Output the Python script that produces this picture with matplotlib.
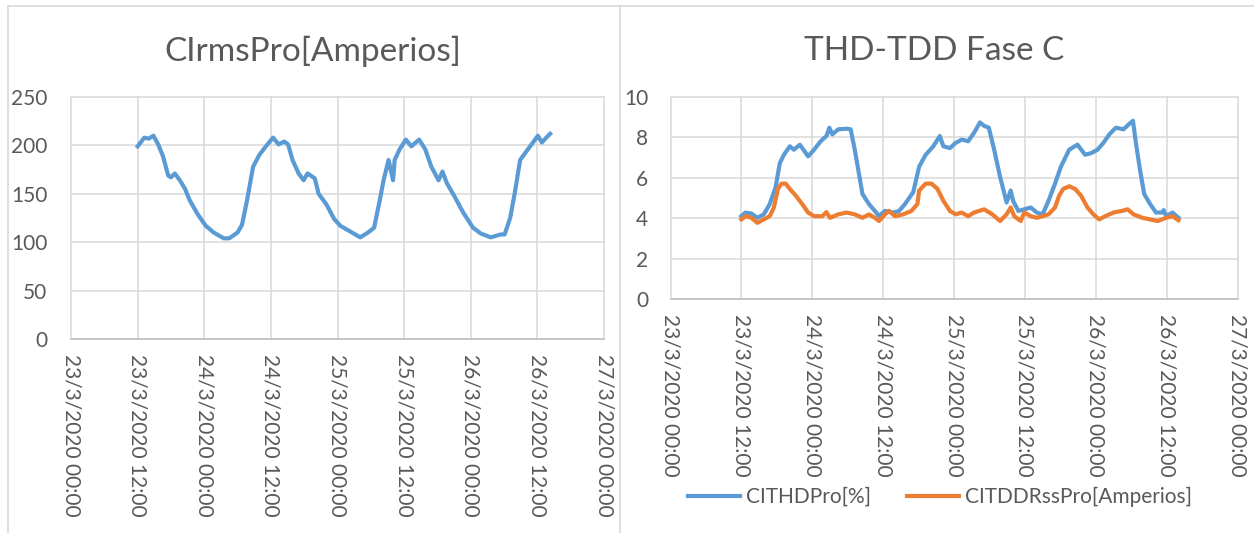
import numpy as np
import matplotlib
matplotlib.use("Agg")
import matplotlib.pyplot as plt

plt.rcParams['font.family'] = ['Lato', 'DejaVu Sans']

AZUL = '#5B9BD5'
NARANJA = '#ED7D31'
GRIS = '#D9D9D9'
TEXTO = '#595959'

# eje x en horas desde 23/3/2020 00:00
tick_horas = [0, 12, 24, 36, 48, 60, 72, 84, 96]
tick_labels = ["23/3/2020 00:00", "23/3/2020 12:00", "24/3/2020 00:00",
               "24/3/2020 12:00", "25/3/2020 00:00", "25/3/2020 12:00",
               "26/3/2020 00:00", "26/3/2020 12:00", "27/3/2020 00:00"]
INICIO = 12  # las medidas empiezan el 23/3 a las 12:00

# CIrmsPro[Amperios] (horas desde el inicio)
irms_t = [0, 1.2, 2.0, 2.85, 3.7, 4.56, 5.5, 6.0, 6.7, 7.6, 8.55, 9.4, 10.8,
          12.26, 13.7, 15.5, 16.5, 18.0, 18.8, 19.7, 20.8, 21.9, 23.1, 24.4,
          25.4, 26.4, 27.1, 27.9, 29.0, 29.9, 30.6, 31.9, 32.6, 34.0, 35.4,
          36.5, 38.3, 40.1, 41.5, 42.6, 43.6, 44.3, 45.2, 46.0, 46.3, 47.2,
          48.3, 49.3, 50.7, 51.8, 52.9, 54.2, 54.9, 55.7, 57.2, 58.6, 60.4,
          61.8, 63.6, 65.4, 66.1, 67.1, 67.9, 68.9, 70.3, 72.1, 72.8, 73.6, 74.3]
irms_val = [199, 208, 207, 210, 201, 189, 169, 167, 171, 164, 155, 143, 129,
            117, 110, 104, 104, 110, 118, 143, 178, 190, 199, 208,
            201, 204, 201, 185, 171, 164, 171, 166, 150, 139, 124,
            117, 111, 105, 110, 115, 143, 164, 185, 164, 185, 196,
            206, 199, 206, 196, 178, 164, 173, 161, 146, 131, 115,
            109, 105, 108, 108, 125, 150, 185, 196, 210, 203, 208, 212]

# CITHDPro[%]
thd_t = [0, 0.7, 1.7, 2.7, 3.8, 4.8, 5.8, 6.5, 7.2, 8.2, 8.9, 9.9, 11.3, 12.3,
         13.4, 14.4, 14.9, 15.4, 16.4, 17.8, 18.5, 19.2, 19.9, 20.5, 21.6,
         22.6, 23.3, 24.3, 25.7, 26.7, 27.7, 29.1, 30.1, 31.2, 32.5, 33.6,
         34.2, 35.3, 36.3, 37.3, 38.4, 39.4, 40.4, 41.1, 41.9, 42.8, 43.8,
         44.9, 45.6, 46.0, 46.9, 47.9, 49.0, 50.0, 51.0, 52.0, 53.1, 54.1,
         55.5, 56.9, 58.2, 59.2, 60.3, 61.3, 62.3, 63.4, 64.7, 65.6, 66.3,
         66.8, 67.5, 68.2, 69.2, 70.2, 71.2, 71.5, 71.9, 73.0, 74.0]
thd_val = [4.1, 4.28, 4.23, 4.02, 4.19, 4.7, 5.54, 6.72, 7.14, 7.56, 7.39, 7.64,
           7.06, 7.39, 7.8, 8.07, 8.48, 8.15, 8.4, 8.43, 8.4, 7.39, 6.21, 5.2,
           4.7, 4.36, 4.1, 4.36, 4.28, 4.36, 4.7, 5.29, 6.55, 7.14, 7.56, 8.07,
           7.56, 7.47, 7.73, 7.89, 7.81, 8.23, 8.74, 8.57, 8.48, 7.39, 6.05,
           4.78, 5.37, 4.86, 4.36, 4.44, 4.53, 4.28, 4.19, 4.86, 5.71, 6.55,
           7.39, 7.64, 7.14, 7.22, 7.39, 7.73, 8.15, 8.48, 8.4, 8.65, 8.82,
           7.73, 6.38, 5.2, 4.7, 4.28, 4.28, 4.4, 4.1, 4.28, 4.02]

# CITDDRssPro[Amperios]
tdd_t = [0, 0.7, 1.7, 2.7, 3.8, 4.8, 5.5, 6.2, 6.8, 7.5, 8.2, 9.2, 10.3, 11.3,
         12.3, 13.7, 14.4, 15.0, 16.4, 17.8, 19.2, 20.5, 21.6, 22.6, 23.3,
         24.3, 25.0, 26.0, 27.4, 28.8, 29.8, 30.1, 31.2, 32.2, 33.2, 34.2,
         35.3, 36.3, 37.3, 38.4, 39.4, 41.1, 42.5, 43.8, 44.9, 45.6, 46.2,
         47.3, 47.9, 49.0, 50.0, 51.0, 52.0, 53.1, 53.8, 54.5, 55.5, 56.5,
         57.5, 58.6, 59.6, 60.6, 61.6, 63.0, 64.4, 65.4, 66.4, 67.9, 69.2,
         70.5, 71.9, 73.0, 74.0]
tdd_val = [3.94, 4.1, 4.02, 3.77, 3.94, 4.1, 4.53, 5.45, 5.71, 5.71, 5.45, 5.12,
           4.7, 4.28, 4.1, 4.1, 4.3, 4.02, 4.19, 4.28, 4.19, 4.02, 4.19, 4.02,
           3.86, 4.19, 4.36, 4.1, 4.19, 4.36, 4.7, 5.37, 5.71, 5.71, 5.45, 4.86,
           4.36, 4.19, 4.28, 4.1, 4.28, 4.44, 4.19, 3.86, 4.19, 4.53, 4.1,
           3.86, 4.28, 4.1, 4.02, 4.1, 4.19, 4.53, 5.12, 5.45, 5.58, 5.45,
           5.12, 4.53, 4.19, 3.94, 4.1, 4.28, 4.36, 4.44, 4.19, 4.02, 3.94,
           3.86, 4.02, 4.1, 3.9]


def formato_eje(ax, ymax, ystep, ypad):
    ax.set_xlim(0, 96)
    ax.set_ylim(0, ymax)
    ax.set_xticks(tick_horas)
    ax.set_xticklabels(tick_labels, rotation=-90, ha='center', va='top')
    ax.set_yticks(np.arange(0, ymax + ystep / 2, ystep))
    ax.grid(True, color=GRIS, linewidth=1.1)
    ax.set_axisbelow(True)
    for linea in ax.get_xgridlines() + ax.get_ygridlines():
        linea.set_clip_on(False)
    for lado in ['top', 'right', 'left']:
        ax.spines[lado].set_visible(False)
    ax.spines['bottom'].set_color('#BFBFBF')
    ax.spines['bottom'].set_linewidth(1.1)
    ax.tick_params(axis='both', length=0, colors=TEXTO, labelsize=15)
    ax.tick_params(axis='x', pad=11)
    ax.tick_params(axis='y', pad=ypad)


fig = plt.figure(figsize=(12.54, 5.33), dpi=100)
W, H = 1254, 533

# marcos de los dos gráficos
fig.add_artist(plt.Line2D([8 / W, 8 / W], [0, 1 - 6 / H], color=GRIS, lw=1.2))
fig.add_artist(plt.Line2D([8 / W, 1], [1 - 6 / H, 1 - 6 / H], color=GRIS, lw=1.2))
fig.add_artist(plt.Line2D([620 / W, 620 / W], [0, 1 - 6 / H], color=GRIS, lw=1.2))

# gráfico 1: corriente rms
ax1 = fig.add_axes([71 / W, 1 - 339 / H, 533 / W, 242 / H])
ax1.plot(np.array(irms_t) + INICIO, irms_val, color=AZUL, lw=3)
formato_eje(ax1, 250, 50, 17)
fig.text(313 / W, 1 - 51 / H, "CIrmsPro[Amperios]", ha='center', va='center',
         fontsize=24, color=TEXTO)

# gráfico 2: THD y TDD
ax2 = fig.add_axes([670.5 / W, 1 - 299 / H, 567 / W, 202 / H])
l1, = ax2.plot(np.array(thd_t) + INICIO, thd_val, color=AZUL, lw=3,
               label='CITHDPro[%]')
l2, = ax2.plot(np.array(tdd_t) + INICIO, tdd_val, color=NARANJA, lw=3,
               label='CITDDRssPro[Amperios]')
formato_eje(ax2, 10, 2, 16)
fig.text(934 / W, 1 - 51 / H, "THD-TDD Fase C", ha='center', va='center',
         fontsize=24, color=TEXTO)
fig.legend(handles=[l1, l2], loc='center', bbox_to_anchor=(940 / W, 1 - 497 / H),
           ncol=2, frameon=False, fontsize=15, labelcolor=TEXTO,
           handlelength=2.5, handletextpad=0.3, columnspacing=1.7)

fig.savefig('out.png', dpi=100)
